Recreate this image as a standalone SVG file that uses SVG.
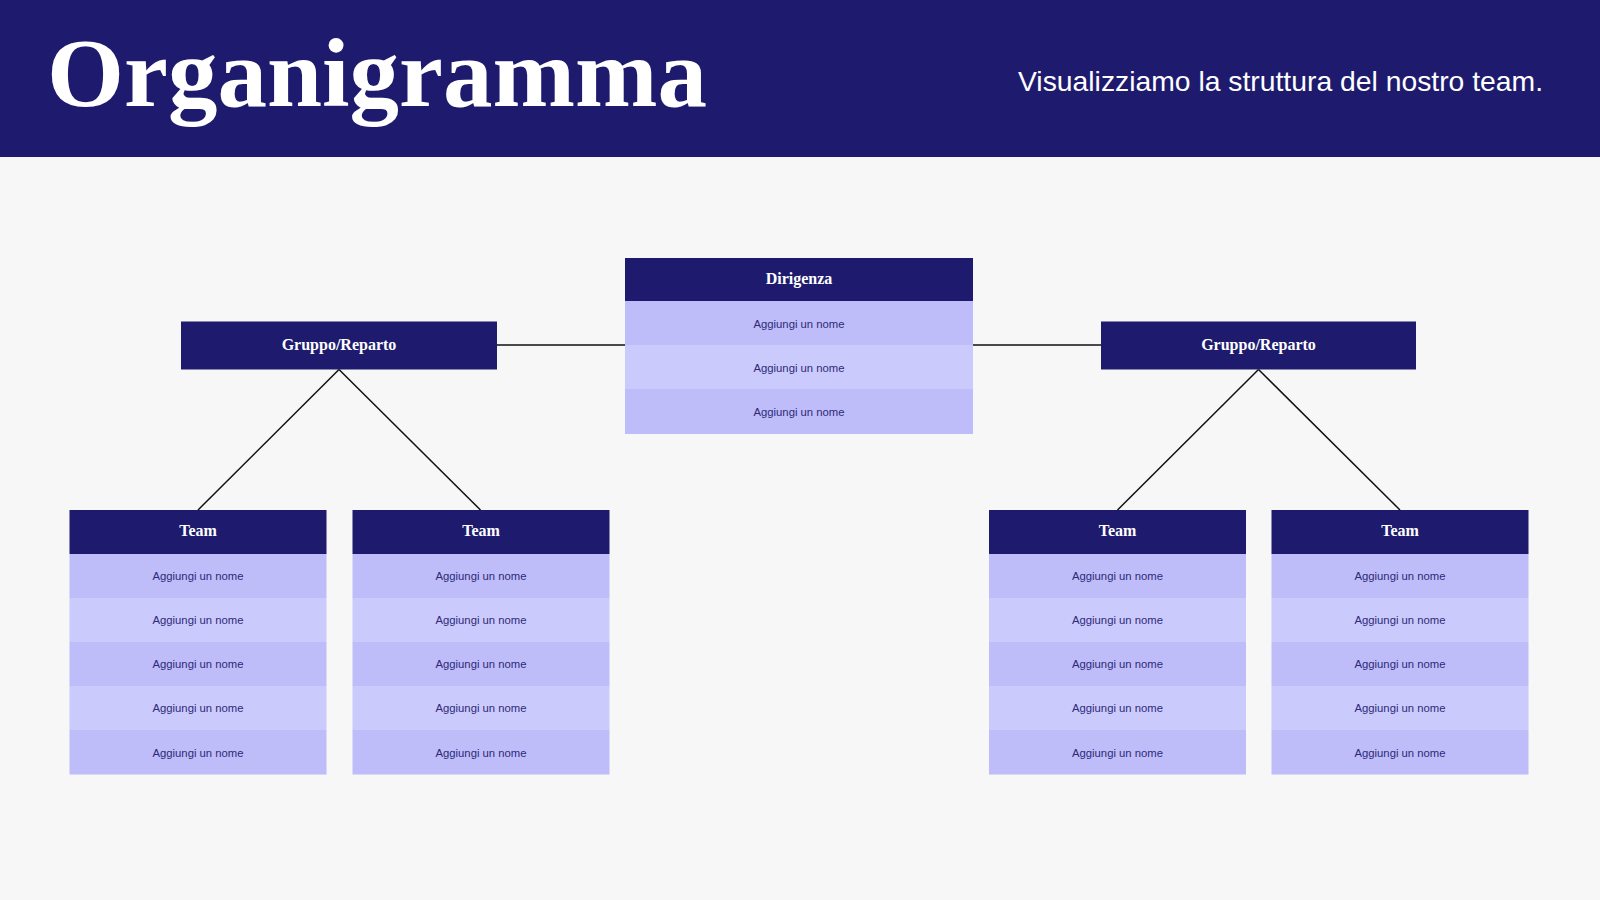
<svg xmlns="http://www.w3.org/2000/svg" width="1600" height="900" viewBox="0 0 1600 900">
<style>
.hdr{fill:#1E1B6E}
.r1{fill:#BEBDFA}
.r2{fill:#CBCAFD}
.ht{font-family:"Liberation Serif",serif;font-weight:bold;font-size:16px;fill:#FFFFFF;text-anchor:middle}
.rt{font-family:"Liberation Sans",Arial,sans-serif;font-size:11.3px;fill:#2E2A78;text-anchor:middle}
.conn line{stroke:#111111;stroke-width:1.5}
</style>
<rect x="0" y="0" width="1600" height="900" fill="#F7F7F7"/>
<rect x="0" y="0" width="1600" height="157" fill="#1E1B6E"/>
<text x="47" y="106" font-family="Liberation Serif,serif" font-weight="bold" font-size="97" fill="#FFFFFF" textLength="660" lengthAdjust="spacingAndGlyphs">Organigramma</text>
<text x="1018" y="91" font-family="Liberation Sans,Arial,sans-serif" font-size="28" fill="#FFFFFF" textLength="525" lengthAdjust="spacingAndGlyphs">Visualizziamo la struttura del nostro team.</text>

<g id="connectors" class="conn">
<line x1="497" y1="345" x2="625" y2="345"/>
<line x1="973" y1="345" x2="1101" y2="345"/>
<line x1="339" y1="369.5" x2="198" y2="510"/>
<line x1="339" y1="369.5" x2="480.5" y2="510"/>
<line x1="1258.5" y1="369.5" x2="1117.5" y2="510"/>
<line x1="1258.5" y1="369.5" x2="1400" y2="510"/>
</g>

<g id="dirigenza">
<rect class="hdr" x="625" y="258" width="348" height="43"/>
<text class="ht" x="799" y="283.5">Dirigenza</text>
<rect class="r1" x="625" y="301" width="348" height="44"/>
<rect class="r2" x="625" y="345" width="348" height="44"/>
<rect class="r1" x="625" y="389" width="348" height="45"/>
<text class="rt" x="799" y="328">Aggiungi un nome</text>
<text class="rt" x="799" y="372">Aggiungi un nome</text>
<text class="rt" x="799" y="416">Aggiungi un nome</text>
</g>

<g id="gruppo-sx">
<rect class="hdr" x="181" y="321.5" width="316" height="48"/>
<text class="ht" x="339" y="349.5">Gruppo/Reparto</text>
</g>
<g id="gruppo-dx">
<rect class="hdr" x="1101" y="321.5" width="315" height="48"/>
<text class="ht" x="1258.5" y="349.5">Gruppo/Reparto</text>
</g>

<g id="team-1">
<rect class="hdr" x="69.5" y="510" width="257" height="44"/>
<text class="ht" x="198" y="536">Team</text>
<rect class="r1" x="69.5" y="554" width="257" height="44"/>
<rect class="r2" x="69.5" y="598" width="257" height="44"/>
<rect class="r1" x="69.5" y="642" width="257" height="44"/>
<rect class="r2" x="69.5" y="686" width="257" height="44"/>
<rect class="r1" x="69.5" y="730" width="257" height="44.5"/>
<text class="rt" x="198" y="580">Aggiungi un nome</text>
<text class="rt" x="198" y="624">Aggiungi un nome</text>
<text class="rt" x="198" y="668">Aggiungi un nome</text>
<text class="rt" x="198" y="712">Aggiungi un nome</text>
<text class="rt" x="198" y="757">Aggiungi un nome</text>
</g>

<g id="team-2">
<rect class="hdr" x="352.5" y="510" width="257" height="44"/>
<text class="ht" x="481" y="536">Team</text>
<rect class="r1" x="352.5" y="554" width="257" height="44"/>
<rect class="r2" x="352.5" y="598" width="257" height="44"/>
<rect class="r1" x="352.5" y="642" width="257" height="44"/>
<rect class="r2" x="352.5" y="686" width="257" height="44"/>
<rect class="r1" x="352.5" y="730" width="257" height="44.5"/>
<text class="rt" x="481" y="580">Aggiungi un nome</text>
<text class="rt" x="481" y="624">Aggiungi un nome</text>
<text class="rt" x="481" y="668">Aggiungi un nome</text>
<text class="rt" x="481" y="712">Aggiungi un nome</text>
<text class="rt" x="481" y="757">Aggiungi un nome</text>
</g>

<g id="team-3">
<rect class="hdr" x="989" y="510" width="257" height="44"/>
<text class="ht" x="1117.5" y="536">Team</text>
<rect class="r1" x="989" y="554" width="257" height="44"/>
<rect class="r2" x="989" y="598" width="257" height="44"/>
<rect class="r1" x="989" y="642" width="257" height="44"/>
<rect class="r2" x="989" y="686" width="257" height="44"/>
<rect class="r1" x="989" y="730" width="257" height="44.5"/>
<text class="rt" x="1117.5" y="580">Aggiungi un nome</text>
<text class="rt" x="1117.5" y="624">Aggiungi un nome</text>
<text class="rt" x="1117.5" y="668">Aggiungi un nome</text>
<text class="rt" x="1117.5" y="712">Aggiungi un nome</text>
<text class="rt" x="1117.5" y="757">Aggiungi un nome</text>
</g>

<g id="team-4">
<rect class="hdr" x="1271.5" y="510" width="257" height="44"/>
<text class="ht" x="1400" y="536">Team</text>
<rect class="r1" x="1271.5" y="554" width="257" height="44"/>
<rect class="r2" x="1271.5" y="598" width="257" height="44"/>
<rect class="r1" x="1271.5" y="642" width="257" height="44"/>
<rect class="r2" x="1271.5" y="686" width="257" height="44"/>
<rect class="r1" x="1271.5" y="730" width="257" height="44.5"/>
<text class="rt" x="1400" y="580">Aggiungi un nome</text>
<text class="rt" x="1400" y="624">Aggiungi un nome</text>
<text class="rt" x="1400" y="668">Aggiungi un nome</text>
<text class="rt" x="1400" y="712">Aggiungi un nome</text>
<text class="rt" x="1400" y="757">Aggiungi un nome</text>
</g>
</svg>
